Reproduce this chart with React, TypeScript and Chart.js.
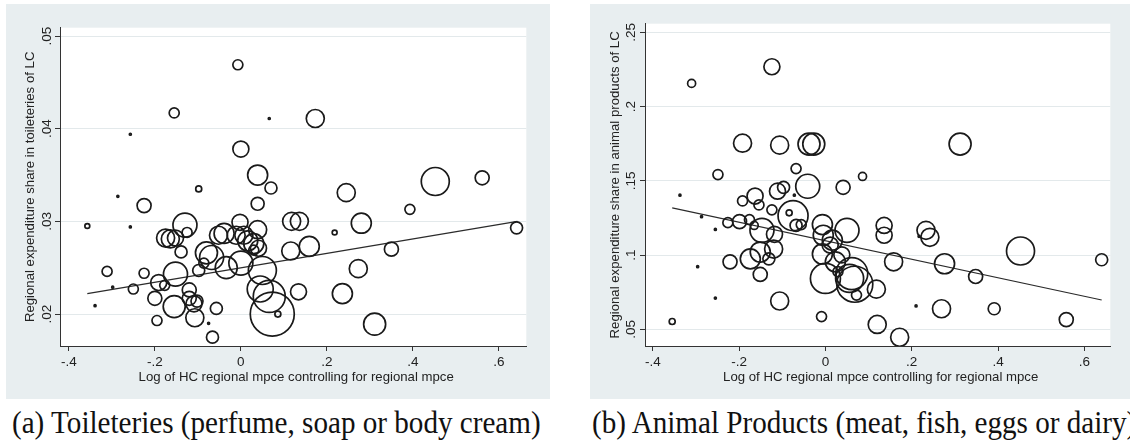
import React, { useEffect, useRef } from "react";
import { Chart, registerables } from "chart.js";
Chart.register(...registerables);

// ---------- shared axis ticks ----------
const xTickValues = [-0.4, -0.2, 0, 0.2, 0.4, 0.6];
const xTickLabels = ["-.4", "-.2", "0", ".2", ".4", ".6"];
const xAxisTitle = "Log of HC regional mpce controlling for regional mpce";

// ---------- panel (a) toiletries ----------
const toiletYTicks = [0.02, 0.03, 0.04, 0.05];
const toiletYLabels = [".02", ".03", ".04", ".05"];
const toiletYTitle = "Regional expenditure share in toileteries of LC";
const toiletCaption = "(a) Toileteries (perfume, soap or body cream)";
const toiletX = [
  -0.007, -0.155, 0.066, -0.257, 0.0, 0.039, 0.07, -0.098, -0.286, -0.225,
  0.039, 0.173, 0.245, 0.452, 0.561, 0.393, -0.357, -0.257, -0.13, -0.175,
  -0.164, -0.152, -0.125, -0.139, -0.039, -0.052, -0.002, -0.011, 0.007, 0.016,
  0.039, 0.03, 0.041, 0.03, 0.118, 0.136, 0.218, 0.28, 0.116, 0.159,
  0.35, 0.641, -0.08, -0.086, -0.068, -0.098, -0.152, -0.034, 0.0, 0.05,
  0.045, 0.066, 0.073, 0.086, 0.134, 0.273, 0.236, 0.311, -0.225, -0.191,
  -0.177, -0.25, -0.311, -0.298, -0.339, -0.2, -0.155, -0.12, -0.12, -0.109,
  -0.107, -0.195, -0.057, -0.075, -0.066, -0.102,
];
const toiletY = [
  0.0469, 0.0417, 0.0411, 0.0394, 0.0378, 0.035, 0.0336, 0.0335, 0.0327, 0.0317,
  0.0319, 0.0411, 0.0331, 0.0343, 0.0347, 0.0313, 0.0295, 0.0294, 0.0296, 0.0282,
  0.0281, 0.0282, 0.0288, 0.0267, 0.0287, 0.0285, 0.0299, 0.0285, 0.0285, 0.0279,
  0.0291, 0.0276, 0.0271, 0.0269, 0.03, 0.03, 0.0288, 0.0298, 0.0268, 0.0273,
  0.027, 0.0293, 0.0266, 0.0255, 0.0261, 0.0247, 0.0243, 0.025, 0.0255, 0.0247,
  0.0227, 0.0219, 0.02, 0.02, 0.0224, 0.0249, 0.0222, 0.0189, 0.0244, 0.0234,
  0.0231, 0.0227, 0.0246, 0.0229, 0.0209, 0.0217, 0.0208, 0.0217, 0.0226, 0.0211,
  0.0196, 0.0193, 0.0206, 0.019, 0.0175, 0.0214,
];
const toiletWeight = [
  25, 25, 1, 1, 64, 100, 36, 9, 1, 49,
  42, 81, 81, 196, 49, 25, 6, 1, 144, 81,
  81, 64, 25, 36, 100, 81, 64, 81, 81, 100,
  81, 100, 64, 25, 81, 81, 6, 100, 81, 100,
  49, 36, 121, 25, 144, 36, 144, 121, 144, 196,
  169, 256, 484, 9, 64, 81, 100, 121, 25, 64,
  25, 25, 25, 1, 1, 49, 121, 49, 49, 64,
  81, 25, 36, 1, 36, 36,
];
const toiletFitX = [-0.357, 0.643];
const toiletFitY = [0.0222, 0.03];

// ---------- panel (b) animal products ----------
const animalYTicks = [0.05, 0.1, 0.15, 0.2, 0.25];
const animalYLabels = [".05", ".1", ".15", ".2", ".25"];
const animalYTitle = "Regional expenditure share in animal products of LC";
const animalCaption = "(b) Animal Products (meat, fish, eggs or dairy)";
const animalX = [
  -0.31, -0.124, -0.192, -0.106, -0.038, -0.027, -0.249, -0.068, -0.337, -0.041,
  -0.111, -0.097, 0.041, 0.312, 0.086, -0.072, -0.163, -0.192, -0.154, -0.124,
  -0.075, -0.084, -0.226, -0.199, -0.176, -0.165, -0.147, -0.118, -0.068, -0.056,
  -0.255, -0.287, -0.007, 0.05, -0.005, 0.016, 0.011, 0.136, 0.136, 0.233,
  0.242, 0.217, -0.12, -0.151, -0.174, -0.131, -0.221, -0.151, -0.007, 0.023,
  0.038, 0.0, 0.056, 0.068, 0.029, 0.072, 0.118, 0.158, -0.106, -0.255,
  -0.009, 0.12, 0.21, 0.172, -0.296, -0.355, 0.452, 0.64, 0.276, 0.348,
  0.269, 0.391, 0.558, 0.061,
];
const animalY = [
  0.2157, 0.2269, 0.1754, 0.1741, 0.1748, 0.1748, 0.1543, 0.1583, 0.1404, 0.1464,
  0.1431, 0.1457, 0.1457, 0.1748, 0.153, 0.1404, 0.1398, 0.1365, 0.1338, 0.1305,
  0.1266, 0.1285, 0.1219, 0.1226, 0.1239, 0.12, 0.1167, 0.114, 0.12, 0.1206,
  0.1173, 0.1259, 0.1206, 0.1167, 0.1134, 0.1101, 0.1068, 0.12, 0.1134, 0.1167,
  0.112, 0.1127, 0.1041, 0.1021, 0.0975, 0.0975, 0.0955, 0.087, 0.1008, 0.0955,
  0.1002, 0.0843, 0.0843, 0.0804, 0.0889, 0.0731, 0.0771, 0.0955, 0.0691, 0.0711,
  0.0586, 0.0533, 0.0658, 0.0447, 0.0922, 0.0553, 0.1028, 0.0969, 0.0942, 0.0856,
  0.0639, 0.0639, 0.0566, 0.0876,
];
const animalWeight = [
  16, 64, 81, 81, 121, 121, 25, 25, 1, 144,
  64, 36, 49, 121, 16, 1, 64, 25, 25, 25,
  225, 9, 25, 49, 25, 16, 144, 64, 36, 25,
  1, 1, 100, 144, 100, 100, 64, 64, 64, 81,
  81, 1, 81, 100, 100, 36, 49, 49, 100, 100,
  64, 225, 196, 324, 25, 25, 81, 81, 81, 1,
  25, 81, 1, 81, 1, 9, 196, 36, 100, 49,
  81, 36, 49, 256,
];
const animalFitX = [-0.355, 0.64];
const animalFitY = [0.1318, 0.0698];

// ---------- styles ----------
const FRAME = "#e8eef0";
const GRID = "#e3e9eb";
const INK = "#1a1a1a";
const SANS = '"Liberation Sans", Arial, Helvetica, sans-serif';
const SERIF = '"Liberation Serif", "Times New Roman", Times, serif';

type PanelProps = {
  left: number;
  top: number;
  width: number;
  height: number;
  padding: { left: number; right: number; top: number; bottom: number };
  xMin: number;
  xMax: number;
  yMin: number;
  yMax: number;
  xs: number[];
  ys: number[];
  ws: number[];
  fitX: number[];
  fitY: number[];
  yTicks: number[];
  yLabels: string[];
  yTitle: string;
  yLabelGap: number;
};

function Panel(p: PanelProps) {
  const ref = useRef<HTMLCanvasElement | null>(null);
  useEffect(() => {
    if (!ref.current) return;
    const textPlugin = {
      id: "stataText",
      beforeDraw(chart: any) {
        const { ctx, chartArea: a, width, height } = chart;
        ctx.save();
        ctx.fillStyle = FRAME;
        ctx.fillRect(0, 0, width, height);
        ctx.fillStyle = "#ffffff";
        ctx.fillRect(a.left, a.top, a.right - a.left, a.bottom - a.top);
        ctx.restore();
      },
      afterDraw(chart: any) {
        const { ctx, chartArea: a } = chart;
        const xs = chart.scales.x;
        const ysc = chart.scales.y;
        ctx.save();
        ctx.fillStyle = "#222";
        ctx.font = `13.5px ${SANS}`;
        ctx.textAlign = "center";
        ctx.textBaseline = "middle";
        xTickValues.forEach((v, i) => {
          ctx.fillText(xTickLabels[i], xs.getPixelForValue(v), a.bottom + 16);
        });
        p.yTicks.forEach((v, i) => {
          const py = ysc.getPixelForValue(v);
          ctx.save();
          ctx.translate(a.left - p.yLabelGap, py);
          ctx.rotate(-Math.PI / 2);
          ctx.fillText(p.yLabels[i], 0, 0);
          ctx.restore();
        });
        ctx.font = `13.2px ${SANS}`;
        ctx.fillText(xAxisTitle, (a.left + a.right) / 2 + 3, a.bottom + 31);
        ctx.save();
        ctx.translate(a.left - 30, (a.top + a.bottom) / 2);
        ctx.rotate(-Math.PI / 2);
        ctx.fillText(p.yTitle, 0, 0);
        ctx.restore();
        ctx.restore();
      },
    };
    const chart = new Chart(ref.current, {
      type: "bubble",
      data: {
        datasets: [
          {
            type: "bubble",
            data: p.xs.map((x, i) => ({ x, y: p.ys[i], r: Math.sqrt(p.ws[i]) })),
            backgroundColor: "rgba(0,0,0,0)",
            borderColor: INK,
            borderWidth: 1.7,
            hoverBorderWidth: 1.7,
          } as any,
          {
            type: "line",
            data: p.fitX.map((x, i) => ({ x, y: p.fitY[i] })),
            borderColor: "#2b2b2b",
            borderWidth: 1.2,
            pointRadius: 0,
            fill: false,
          } as any,
        ],
      },
      options: {
        animation: false,
        responsive: false,
        events: [],
        layout: { padding: p.padding },
        plugins: { legend: { display: false }, tooltip: { enabled: false } },
        scales: {
          x: {
            type: "linear",
            min: p.xMin,
            max: p.xMax,
            afterBuildTicks: (s: any) => {
              s.ticks = xTickValues.map((v) => ({ value: v }));
            },
            afterFit: (s: any) => {
              s.height = 10;
            },
            ticks: { display: false },
            grid: {
              display: true,
              drawOnChartArea: false,
              drawTicks: true,
              tickLength: 5,
              tickColor: "#333",
              color: "#333",
            },
            border: { display: true, color: "#333", width: 1 },
          },
          y: {
            type: "linear",
            min: p.yMin,
            max: p.yMax,
            afterBuildTicks: (s: any) => {
              s.ticks = p.yTicks.map((v) => ({ value: v }));
            },
            afterFit: (s: any) => {
              s.width = 10;
            },
            ticks: { display: false },
            grid: {
              display: true,
              drawOnChartArea: true,
              drawTicks: true,
              tickLength: 5,
              tickColor: "#333",
              color: GRID,
              lineWidth: 1,
            },
            border: { display: true, color: "#333", width: 1 },
          },
        },
      } as any,
      plugins: [textPlugin],
    });
    return () => chart.destroy();
  }, []);
  return (
    <canvas
      ref={ref}
      width={p.width}
      height={p.height}
      style={{ position: "absolute", left: p.left, top: p.top, width: p.width, height: p.height }}
    />
  );
}

const captionStyle: React.CSSProperties = {
  position: "absolute",
  top: 406,
  fontFamily: SERIF,
  fontSize: 32,
  lineHeight: "32px",
  color: "#111",
  whiteSpace: "nowrap",
  transform: "scaleX(0.91)",
  transformOrigin: "0 0",
};

export default function App() {
  return (
    <div
      style={{
        position: "absolute",
        left: 0,
        top: 0,
        width: 1130,
        height: 448,
        overflow: "hidden",
        background: "#fff",
      }}
    >
      <Panel
        left={6}
        top={4}
        width={544}
        height={395}
        padding={{ left: 44, right: 13, top: 13, bottom: 43 }}
        xMin={-0.4205}
        xMax={0.6636}
        yMin={0.01655}
        yMax={0.0509}
        xs={toiletX}
        ys={toiletY}
        ws={toiletWeight}
        fitX={toiletFitX}
        fitY={toiletFitY}
        yTicks={toiletYTicks}
        yLabels={toiletYLabels}
        yTitle={toiletYTitle}
        yLabelGap={13}
      />
      <Panel
        left={590}
        top={4}
        width={540}
        height={395}
        padding={{ left: 45, right: 8, top: 13, bottom: 43 }}
        xMin={-0.418}
        xMax={0.66}
        yMin={0.0388}
        yMax={0.2559}
        xs={animalX}
        ys={animalY}
        ws={animalWeight}
        fitX={animalFitX}
        fitY={animalFitY}
        yTicks={animalYTicks}
        yLabels={animalYLabels}
        yTitle={animalYTitle}
        yLabelGap={14}
      />
      <div style={{ ...captionStyle, left: 12 }}>{toiletCaption}</div>
      <div style={{ ...captionStyle, left: 592 }}>{animalCaption}</div>
    </div>
  );
}
